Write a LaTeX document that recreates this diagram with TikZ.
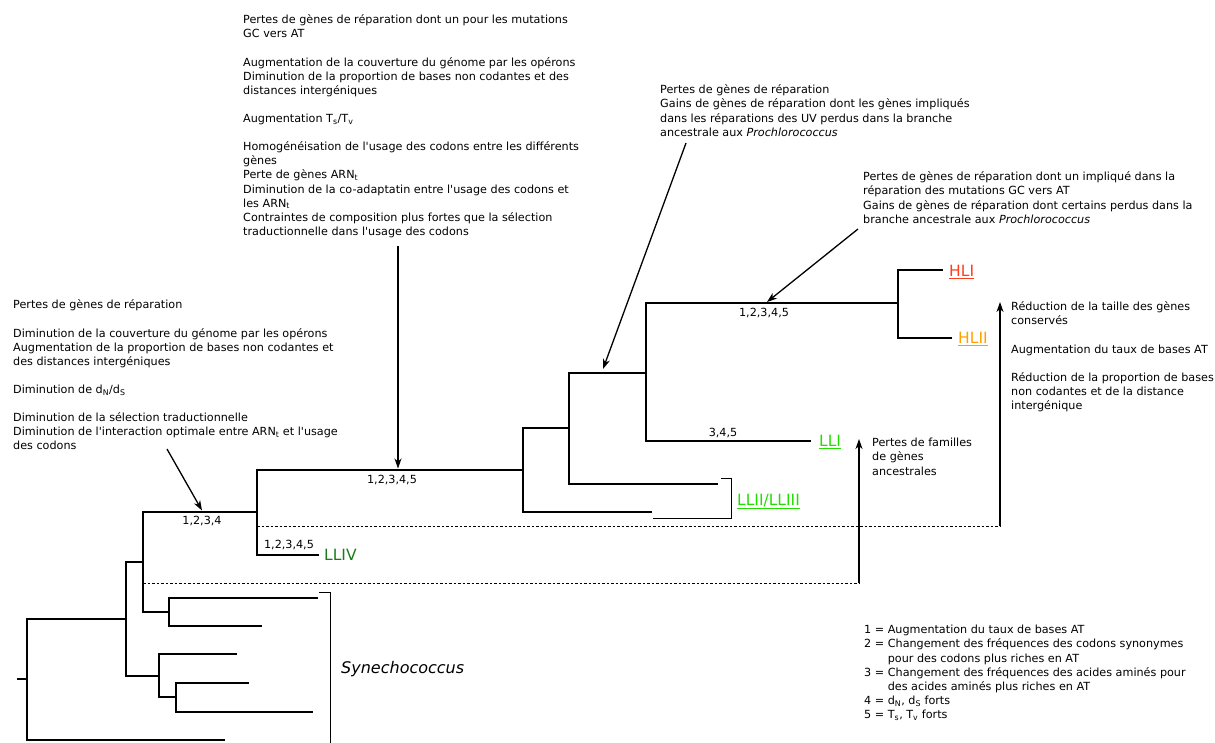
\documentclass[tikz,border=0pt]{standalone}
\usepackage{fontspec}
\setmainfont{DejaVu Sans}
\usetikzlibrary{arrows.meta}
\definecolor{hlicol}{HTML}{FF3C1E}
\definecolor{hliicol}{HTML}{FFA000}
\definecolor{llicol}{HTML}{22DD00}
\definecolor{llivcol}{HTML}{1A7A1A}
\newcommand\txtfont{\fontsize{11.2}{14.1}\selectfont}
\newcommand\q{\textquotesingle}
\newcommand\sub[1]{\textsubscript{#1}}
\begin{document}
\begin{tikzpicture}[x=1pt,y=-1pt,
  branch/.style={line width=1.5pt},
  bracket/.style={line width=1pt},
  dashline/.style={line width=0.9pt, dash pattern=on 2.5pt off 2pt},
  arr/.style={line width=1.3pt, -{Stealth[length=10pt,width=7pt,inset=3pt]}},
  txt/.style={anchor=north west, align=left, inner sep=0pt, font=\txtfont},
  lab/.style={anchor=base, inner sep=0pt, font=\txtfont},
  clade/.style={anchor=base west, inner sep=0pt, font=\fontsize{15.5}{18}\selectfont}]
\useasboundingbox (0,0) rectangle (1215,742);

% ---------- tree coordinates ----------
\coordinate (s0) at (17,679);
\coordinate (r) at (27,679);
\coordinate (n1) at (126,619);
\coordinate (lb) at (225,740);
\coordinate (n2) at (143,562);
\coordinate (n3) at (159,676);
\coordinate (l3a) at (237,654);
\coordinate (n4) at (176,697);
\coordinate (l4a) at (249,683);
\coordinate (l4b) at (313,712);
\coordinate (P) at (257,512);
\coordinate (n5) at (169,612);
\coordinate (l5a) at (318,598);
\coordinate (l5b) at (262,626);
\coordinate (lliv) at (319,555);
\coordinate (Q) at (523,470);
\coordinate (lq) at (652,512);
\coordinate (S) at (569,428);
\coordinate (ls) at (718,484);
\coordinate (T) at (646,373);
\coordinate (lli) at (811,441);
\coordinate (H) at (898,303);
\coordinate (hli) at (943,270);
\coordinate (hlii) at (952,338);

% ---------- branches ----------
\draw[branch] (s0) -- (r);
\draw[branch] (r) |- (n1);
\draw[branch] (r) |- (lb);
\draw[branch] (n1) |- (n2);
\draw[branch] (n1) |- (n3);
\draw[branch] (n3) |- (l3a);
\draw[branch] (n3) |- (n4);
\draw[branch] (n4) |- (l4a);
\draw[branch] (n4) |- (l4b);
\draw[branch] (n2) |- (P);
\draw[branch] (n2) |- (n5);
\draw[branch] (n5) |- (l5a);
\draw[branch] (n5) |- (l5b);
\draw[branch] (P) |- (lliv);
\draw[branch] (P) |- (Q);
\draw[branch] (Q) |- (lq);
\draw[branch] (Q) |- (S);
\draw[branch] (S) |- (ls);
\draw[branch] (S) |- (T);
\draw[branch] (T) |- (lli);
\draw[branch] (T) |- (H);
\draw[branch] (H) |- (hli);
\draw[branch] (H) |- (hlii);

% ---------- brackets ----------
\coordinate (bk1a) at (721,478);
\coordinate (bk1b) at (731,518);
\coordinate (bk1c) at (653,518);
\draw[bracket] (bk1a) -| (bk1b) -- (bk1c);
\coordinate (bk2a) at (319,592);
\coordinate (bk2b) at (330,745);
\draw[bracket] (bk2a) -| (bk2b);

% ---------- clade labels ----------
\node[clade, text=hlicol] (tHLI) at (949,276.5) {\underline{HLI}};
\node[clade, text=hliicol] (tHLII) at (958,343.5) {\underline{HLII}};
\node[clade, text=llicol] (tLLI) at (819,446.5) {\underline{LLI}};
\node[clade, text=llicol] (tLLII) at (737,505.5) {\underline{LLII/LLIII}};
\node[clade, text=llivcol] (tLLIV) at (324,560.5) {LLIV};
\node[anchor=base west, inner sep=0pt, font=\fontsize{16}{19}\selectfont\itshape] (tSyn) at (341,673.5) {Synechococcus};

% ---------- branch labels ----------
\node[lab] (b1) at (202,524) {1,2,3,4};
\node[lab] (b2) at (392,483) {1,2,3,4,5};
\node[lab] (b3) at (289,548) {1,2,3,4,5};
\node[lab] (b4) at (723,436) {3,4,5};
\node[lab] (b5) at (764,316) {1,2,3,4,5};

% ---------- dashed lines ----------
\coordinate (d1s) at (257,526);
\coordinate (d1e) at (1000,526);
\coordinate (d2s) at (143,583);
\coordinate (d2e) at (859,583);
\draw[dashline] (d1s) -- (d1e);
\draw[dashline] (d2s) -- (d2e);

% ---------- text blocks ----------
\node[txt] (tA) at (13,298.8) {\strut Pertes de gènes de réparation\\[14.1pt]
Diminution de la couverture du génome par les opérons\\
Augmentation de la proportion de bases non codantes et\\
des distances intergéniques\\[14.1pt]
Diminution de d\sub{N}/d\sub{S}\\[14.1pt]
Diminution de la sélection traductionnelle\\
Diminution de l\q interaction optimale entre ARN\sub{t} et l\q usage\\
des codons};

\node[txt] (tB) at (243,13.8) {\strut Pertes de gènes de réparation dont un pour les mutations\\
GC vers AT\\[14.1pt]
Augmentation de la couverture du génome par les opérons\\
Diminution de la proportion de bases non codantes et des\\
distances intergéniques\\[14.1pt]
Augmentation T\sub{s}/T\sub{v}\\[14.1pt]
Homogénéisation de l\q usage des codons entre les différents\\
gènes\\
Perte de gènes ARN\sub{t}\\
Diminution de la co-adaptatin entre l\q usage des codons et\\
les ARN\sub{t}\\
Contraintes de composition plus fortes que la sélection\\
traductionnelle dans l\q usage des codons};

\node[txt] (tC) at (660,83.8) {\strut Pertes de gènes de réparation\\
Gains de gènes de réparation dont les gènes impliqués\\
dans les réparations des UV perdus dans la branche\\
ancestrale aux \textit{Prochlorococcus}};

\node[txt] (tD) at (863,170.8) {\strut Pertes de gènes de réparation dont un impliqué dans la\\
réparation des mutations GC vers AT\\
Gains de gènes de réparation dont certains perdus dans la\\
branche ancestrale aux \textit{Prochlorococcus}};

\node[txt] (tE) at (1011,300.8) {\strut Réduction de la taille des gènes\\
conservés\\[14.1pt]
Augmentation du taux de bases AT\\[14.1pt]
Réduction de la proportion de bases\\
non codantes et de la distance\\
intergénique};

\node[txt] (tF) at (872,436.8) {\strut Pertes de familles\\
de gènes\\
ancestrales};

\node[txt] (tG) at (864,623.8) {\strut 1 = Augmentation du taux de bases AT\\
2 = Changement des fréquences des codons synonymes\\
\phantom{2 = }pour des codons plus riches en AT\\
3 = Changement des fréquences des acides aminés pour\\
\phantom{3 = }des acides aminés plus riches en AT\\
4 = d\sub{N}, d\sub{S} forts\\
5 = T\sub{s}, T\sub{v} forts};

% ---------- arrows ----------
\coordinate (a1s) at (167,449);
\coordinate (a1e) at (202,510.5);
\draw[arr] (a1s) -- (a1e);
\coordinate (a2s) at (398,246);
\coordinate (a2e) at (398,468.5);
\draw[arr] (a2s) -- (a2e);
\coordinate (a3s) at (686,143);
\coordinate (a3e) at (603,369);
\draw[arr] (a3s) -- (a3e);
\coordinate (a4s) at (858,229);
\coordinate (a4e) at (767,302);
\draw[arr] (a4s) -- (a4e);
\draw[arr] (d1e) -- (1000,302);
\draw[arr] (d2e) -- (859,439);
\end{tikzpicture}
\end{document}
